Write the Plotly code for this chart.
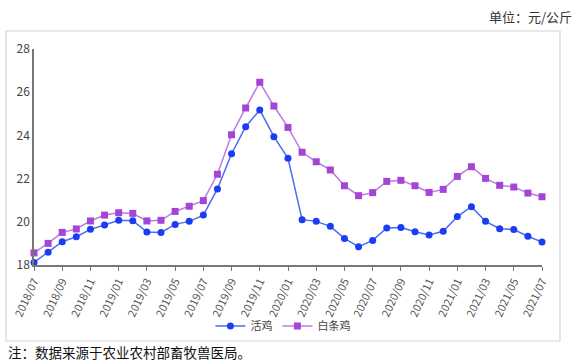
import plotly.graph_objects as go

months = [f"{y}/{m:02d}" for y, m in
          [(2018, m) for m in range(7, 13)] + [(2019, m) for m in range(1, 13)] +
          [(2020, m) for m in range(1, 13)] + [(2021, m) for m in range(1, 8)]]

live_chicken = [18.12, 18.59, 19.08, 19.31, 19.65, 19.85,
                20.07, 20.05, 19.53, 19.51, 19.88, 20.02, 20.31, 21.52, 23.15, 24.40, 25.18, 23.94,
                22.94, 20.10, 20.02, 19.79, 19.23, 18.85, 19.14, 19.71, 19.74, 19.54, 19.39, 19.56,
                20.24, 20.70, 20.02, 19.68, 19.64, 19.33, 19.06]
white_chicken = [18.56, 19.00, 19.51, 19.67, 20.04, 20.31,
                 20.42, 20.39, 20.04, 20.07, 20.48, 20.72, 20.98, 22.20, 24.03, 25.27, 26.46, 25.36,
                 24.37, 23.22, 22.78, 22.40, 21.67, 21.21, 21.35, 21.87, 21.92, 21.67, 21.36, 21.50,
                 22.10, 22.55, 22.01, 21.69, 21.61, 21.33, 21.16]
tick_labels = months[::2]
y_ticks = [18, 20, 22, 24, 26, 28]

fig = go.Figure()
fig.add_trace(go.Scatter(
    x=months, y=live_chicken, name="活鸡", mode="lines+markers",
    line=dict(color="#4a6cf7", width=1.5),
    marker=dict(symbol="circle", size=7, color="#1a3cf5"),
    cliponaxis=False))
fig.add_trace(go.Scatter(
    x=months, y=white_chicken, name="白条鸡", mode="lines+markers",
    line=dict(color="#b97be6", width=1.5),
    marker=dict(symbol="square", size=7, color="#a545d6"),
    cliponaxis=False))

fig.update_layout(
    width=582, height=363,
    margin=dict(l=34, r=40, t=49, b=98),
    paper_bgcolor="white", plot_bgcolor="white",
    font=dict(family="Noto Sans CJK SC, Noto Sans, sans-serif", color="#444", size=11),
    showlegend=True,
    legend=dict(orientation="h", x=0.49, xanchor="center", y=-0.282, yanchor="middle",
                font=dict(size=11, color="#444"), itemwidth=30,
                bgcolor="rgba(0,0,0,0)", tracegroupgap=0),
    xaxis=dict(type="category", range=[0, 36], tickmode="array",
               tickvals=tick_labels, ticktext=tick_labels, tickangle=-65,
               showgrid=False, showline=True, linecolor="#777", linewidth=1.5,
               ticks="outside", ticklen=4, tickcolor="#777",
               tickfont=dict(size=11, color="#555"), zeroline=False, automargin=False),
    yaxis=dict(range=[18, 28], tickvals=y_ticks, showgrid=False, showline=True,
               linecolor="#777", linewidth=1.5, ticks="", zeroline=False,
               tickfont=dict(size=12, color="#444"), automargin=False),
    shapes=[dict(type="rect", xref="paper", yref="paper",
                 x0=-0.0551, x1=1.0354, y0=-0.3519, y1=1.0833,
                 line=dict(color="#d4d4d4", width=1.2), layer="below")],
    annotations=[
        dict(text="单位：元/公斤", xref="paper", yref="paper",
             x=(574 - 34) / 508, y=(265 - 16) / 216, xanchor="right", yanchor="middle",
             showarrow=False, font=dict(size=13, color="#333")),
        dict(text="注：数据来源于农业农村部畜牧兽医局。", xref="paper", yref="paper",
             x=(6 - 34) / 508, y=(265 - 352) / 216, xanchor="left", yanchor="middle",
             showarrow=False, font=dict(size=13.5, color="#111")),
    ],
)

fig.write_html("out.html", config={"displayModeBar": False},
               post_script="document.body.style.margin='0px';")
